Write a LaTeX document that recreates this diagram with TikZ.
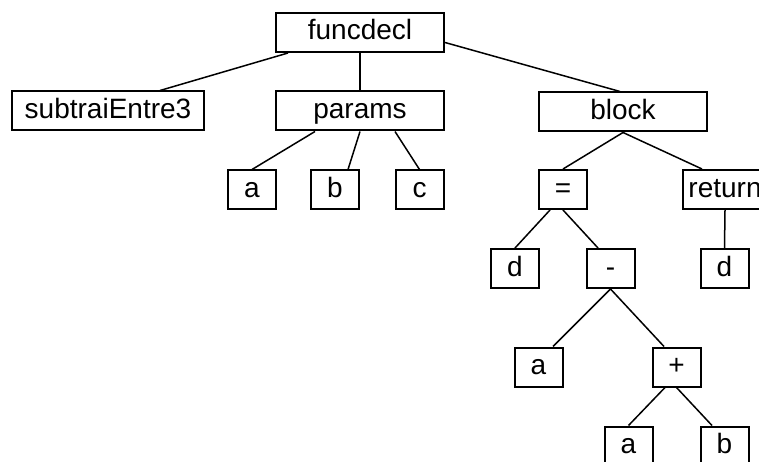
\documentclass[tikz,border=0pt]{standalone}
\usepackage{fontspec}
\setmainfont{Liberation Sans}
\usepackage{tikz}

\begin{document}
\begin{tikzpicture}[x=1pt, y=-1pt,
    box/.style={draw, line width=2pt, rectangle, inner sep=0pt,
      minimum height=39pt, text height=20pt, text depth=5pt,
      font=\fontsize{28}{34}\selectfont},
    leaf/.style={box, minimum width=48pt},
    edge/.style={line width=1.5pt}]
  % picture is cut at the right and bottom border
  \clip (0,0) rectangle (759,462);
  % Top levels
  \node[box, minimum width=168pt] (funcdecl) at (360,32.5) {funcdecl};
  \node[box, minimum width=192pt] (name) at (108,111) {subtraiEntre3};
  \node[box, minimum width=168pt] (params) at (360,111) {params};
  \node[box, minimum width=168pt] (block) at (623,112) {block};
  % Parameters
  \node[leaf] (pa) at (252,190) {a};
  \node[leaf] (pb) at (335,190) {b};
  \node[leaf] (pc) at (419.5,190) {c};
  % Body
  \node[leaf] (assign) at (563,189.5) {=};
  \node[box, minimum width=84pt] (return) at (725,189.5) {return};
  \node[leaf] (lhs) at (515,268.5) {d};
  \node[leaf] (minus) at (610.5,268.5) {-};
  \node[leaf] (retval) at (724.5,268.5) {d};
  \node[leaf] (ma) at (538.5,367) {a};
  \node[leaf] (plus) at (676.5,367) {+};
  \node[leaf] (sa) at (628.5,446) {a};
  \node[leaf] (sb) at (724.5,446) {b};
  % Edges
  \draw[edge] ([xshift=-72pt]funcdecl.south) -- ([xshift=52pt]name.north);
  \draw[edge] (funcdecl.south) -- (params.north);
  \draw[edge] ([yshift=-10pt]funcdecl.east) -- ([xshift=-3pt]block.north);
  \draw[edge] ([xshift=-45pt]params.south) -- (pa.north);
  \draw[edge] (params.south) -- ([xshift=13pt]pb.north);
  \draw[edge] ([xshift=35pt]params.south) -- (pc.north);
  \draw[edge] (block.south) -- (assign.north);
  \draw[edge] (block.south) -- ([xshift=-23pt]return.north);
  \draw[edge] ([xshift=-13pt]assign.south) -- (lhs.north);
  \draw[edge] (assign.south) -- ([xshift=-12.5pt]minus.north);
  \draw[edge] (return.south) -- (retval.north);
  \draw[edge] (minus.south) -- ([xshift=14.5pt]ma.north);
  \draw[edge] (minus.south) -- ([xshift=-12.5pt]plus.north);
  \draw[edge] ([xshift=-11.5pt]plus.south) -- (sa.north);
  \draw[edge] (plus.south) -- ([xshift=-12.5pt]sb.north);
\end{tikzpicture}
\end{document}
